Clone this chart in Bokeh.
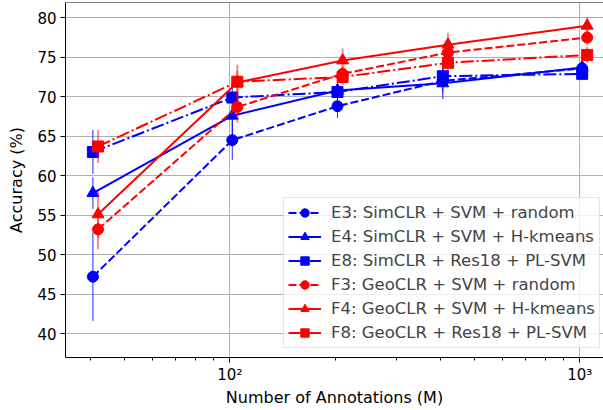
import numpy as np
from bokeh.plotting import figure
from bokeh.models import FixedTicker, Legend, LegendItem, ColumnDataSource, Span
from bokeh.embed import file_html
from bokeh.resources import INLINE

# annotation counts (E series drawn slightly left of F series)
E_x = [40.6, 101.6, 203, 406, 1016]
F_x = [42, 105, 210, 420, 1050]

E3 = [47.2, 64.5, 68.8, 72.0, 73.6]
E3_err = [5.6, 2.5, 1.5, 1.5, 1.0]
E4 = [57.8, 67.6, 70.8, 71.7, 73.7]
E4_err = [2.0, 2.5, 1.0, 2.0, 0.5]
E8 = [63.0, 69.9, 70.6, 72.6, 72.9]
E8_err = [2.8, 1.5, 1.0, 1.0, 0.8]
F3 = [53.2, 68.7, 72.9, 75.6, 77.5]
F3_err = [2.5, 2.0, 1.0, 1.2, 1.0]
F4 = [55.1, 71.8, 74.6, 76.6, 79.0]
F4_err = [3.0, 1.5, 1.5, 1.5, 1.0]
F8 = [63.7, 71.9, 72.5, 74.3, 75.3]
F8_err = [2.1, 2.2, 1.0, 1.0, 1.0]

labels = [
    "E3: SimCLR + SVM + random",
    "E4: SimCLR + SVM + H-kmeans",
    "E8: SimCLR + Res18 + PL-SVM",
    "F3: GeoCLR + SVM + random",
    "F4: GeoCLR + SVM + H-kmeans",
    "F8: GeoCLR + Res18 + PL-SVM",
]

x_major = [100, 1000]
x_minor = [40, 50, 60, 70, 80, 90, 200, 300, 400, 500, 600, 700, 800, 900]
y_ticks = [40, 45, 50, 55, 60, 65, 70, 75, 80]

X_START, X_END = 33.9, 1169
Y_START, Y_END = 36.96, 81.94

FONT = "DejaVu Sans"
BLUE = "#0000ff"
RED = "#ff0000"

p = figure(width=603, height=410, x_axis_type="log",
           x_range=(X_START, X_END), y_range=(Y_START, Y_END),
           output_backend="svg", toolbar_location=None,
           min_border_left=65, min_border_right=0, min_border_top=2,
           min_border_bottom=53)
p.outline_line_color = None
p.add_layout(Span(location=Y_END, dimension="width", line_color="black", line_width=1))

p.xaxis.ticker = FixedTicker(ticks=x_major, minor_ticks=x_minor)
p.xaxis.major_label_overrides = {100: "10\u00b2", 1000: "10\u00b3"}
p.yaxis.ticker = FixedTicker(ticks=y_ticks)
p.yaxis.minor_tick_line_color = None

for ax in (p.xaxis, p.yaxis):
    ax.axis_line_color = "black"
    ax.axis_line_width = 1
    ax.major_tick_line_color = "black"
    ax.major_tick_in = 0
    ax.major_tick_out = 5
    ax.minor_tick_in = 0
    ax.minor_tick_out = 3
    ax.major_label_text_font = FONT
    ax.major_label_text_font_size = "15px"
    ax.major_label_text_color = "black"
    ax.axis_label_text_font = FONT
    ax.axis_label_text_font_size = "16px"
    ax.axis_label_text_font_style = "normal"
    ax.axis_label_text_color = "black"
    ax.major_label_standoff = 4

p.xaxis.major_label_standoff = 3
p.xaxis.axis_label = "Number of Annotations (M)"
p.yaxis.axis_label = "Accuracy (%)"
p.yaxis.axis_label_standoff = 8
p.xaxis.axis_label_standoff = 1

p.xgrid.grid_line_color = "#b0b0b0"
p.ygrid.grid_line_color = "#b0b0b0"
p.xgrid.grid_line_width = 1
p.ygrid.grid_line_width = 1

series = [
    (E_x, E3, E3_err, BLUE, "8 3", "circle", 11),
    (E_x, E4, E4_err, BLUE, "solid", "triangle", 12),
    (E_x, E8, E8_err, BLUE, "13 3 2 3", "square", 11),
    (F_x, F3, F3_err, RED, "8 3", "circle", 11),
    (F_x, F4, F4_err, RED, "solid", "triangle", 12),
    (F_x, F8, F8_err, RED, "13 3 2 3", "square", 11),
]

items = []
for (xs, ys, errs, color, dash, marker, size), label in zip(series, labels):
    ya = np.array(ys, dtype=float)
    ea = np.array(errs, dtype=float)
    src = ColumnDataSource(dict(x=xs, y=ys, lo=ya - ea, hi=ya + ea))
    if color == BLUE:
        p.segment(x0="x", y0="lo", x1="x", y1="hi", source=src,
                  line_color=color, line_width=1, line_alpha=0.85)
    else:
        p.segment(x0="x", y0="lo", x1="x", y1="hi", source=src,
                  line_color=color, line_width=2, line_alpha=0.45)
    lr = p.line("x", "y", source=src, line_color=color, line_width=2,
                line_dash=dash)
    sr = p.scatter("x", "y", source=src, marker=marker, size=size,
                   fill_color=color, line_color=color)
    items.append(LegendItem(label=label, renderers=[lr, sr]))

legend = Legend(items=items, location=(218, 9),
                label_text_font=FONT, label_text_font_size="16.5px",
                glyph_width=33, glyph_height=21, label_height=21,
                label_standoff=10, spacing=3, padding=4, margin=0,
                border_line_color="#cccccc", border_line_width=1,
                background_fill_color="white", background_fill_alpha=0.8)
p.add_layout(legend)

open("out.html", "w").write(file_html(p, INLINE))
